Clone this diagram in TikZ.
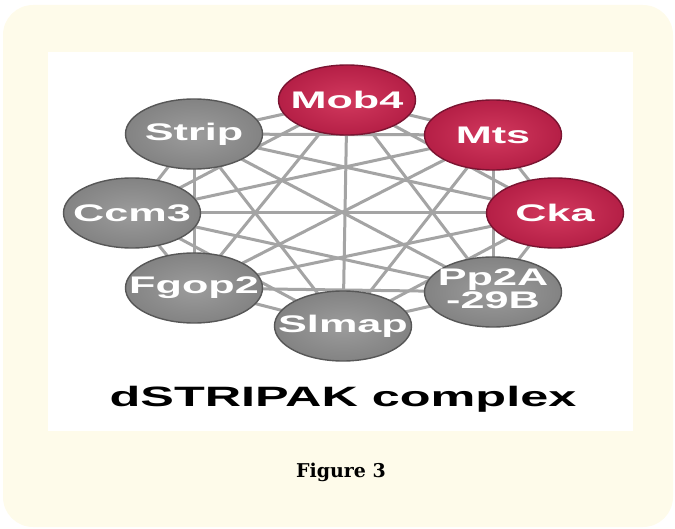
\documentclass[tikz,border=0pt]{standalone}
\usepackage{fontspec}
\usepackage{graphicx}
\newfontfamily\labfont{Liberation Sans}
\newfontfamily\capfont{DejaVu Serif}
\usetikzlibrary{shapes.geometric,backgrounds}
\definecolor{cream}{HTML}{FEFBEA}
\definecolor{edgegray}{HTML}{A4A4A4}
\definecolor{redin}{HTML}{D2395E}
\definecolor{redout}{HTML}{B51F46}
\definecolor{redline}{HTML}{7A1431}
\definecolor{grayin}{HTML}{9C9C9C}
\definecolor{grayout}{HTML}{838383}
\definecolor{grayline}{HTML}{575757}
\newcommand{\wide}[1]{\makebox[0pt]{\scalebox{1.8}[1]{#1}}}
\tikzset{
  prot/.style={ellipse, minimum width=137pt, minimum height=70pt, inner sep=0pt,
    line width=1.4pt, text=white,
    font=\labfont\bfseries\fontsize{24}{22}\selectfont},
  redprot/.style={prot, draw=redline, inner color=redin, outer color=redout},
  grayprot/.style={prot, draw=grayline, inner color=grayin, outer color=grayout},
  edge/.style={draw=edgegray, line width=3pt}
}
\begin{document}
\begin{tikzpicture}[x=1pt, y=-1pt]
\useasboundingbox (0,0) rectangle (675,529);
\begin{scope}[on background layer]
  \fill[cream, rounded corners=30pt] (3,5) rectangle (673,527);
  \fill[white] (48,52) rectangle (633,431);
\end{scope}
\node[redprot]  (mob) at (347,100) {\wide{Mob4}};
\node[redprot]  (mts) at (493,135) {\wide{Mts}};
\node[redprot]  (cka) at (555,213) {\wide{Cka}};
\node[grayprot] (pp)  at (493,292) {\wide{\begin{tabular}{@{}c@{}}Pp2A\\-29B\end{tabular}}};
\node[grayprot] (slm) at (343,326) {\wide{Slmap}};
\node[grayprot] (fgo) at (194,288) {\wide{Fgop2}};
\node[grayprot] (ccm) at (132,213) {\wide{Ccm3}};
\node[grayprot] (str) at (194,134) {\wide{Strip}};
\begin{scope}[on background layer]
  \foreach \a/\b in {mob/mts, mob/cka, mob/pp, mob/slm, mob/fgo, mob/ccm, mob/str,
                     mts/cka, mts/pp, mts/slm, mts/fgo, mts/ccm, mts/str,
                     cka/pp, cka/slm, cka/fgo, cka/ccm, cka/str,
                     pp/slm, pp/fgo, pp/ccm, pp/str,
                     slm/fgo, slm/ccm, slm/str,
                     fgo/ccm, fgo/str,
                     ccm/str}
    \draw[edge] (\a.center) -- (\b.center);
\end{scope}
\node (title) at (343,399) {\wide{\labfont\bfseries\fontsize{28}{30}\selectfont dSTRIPAK complex}};
\node (fig) at (341,472) {\capfont\bfseries\fontsize{19}{22}\selectfont Figure 3};
\end{tikzpicture}
\end{document}
